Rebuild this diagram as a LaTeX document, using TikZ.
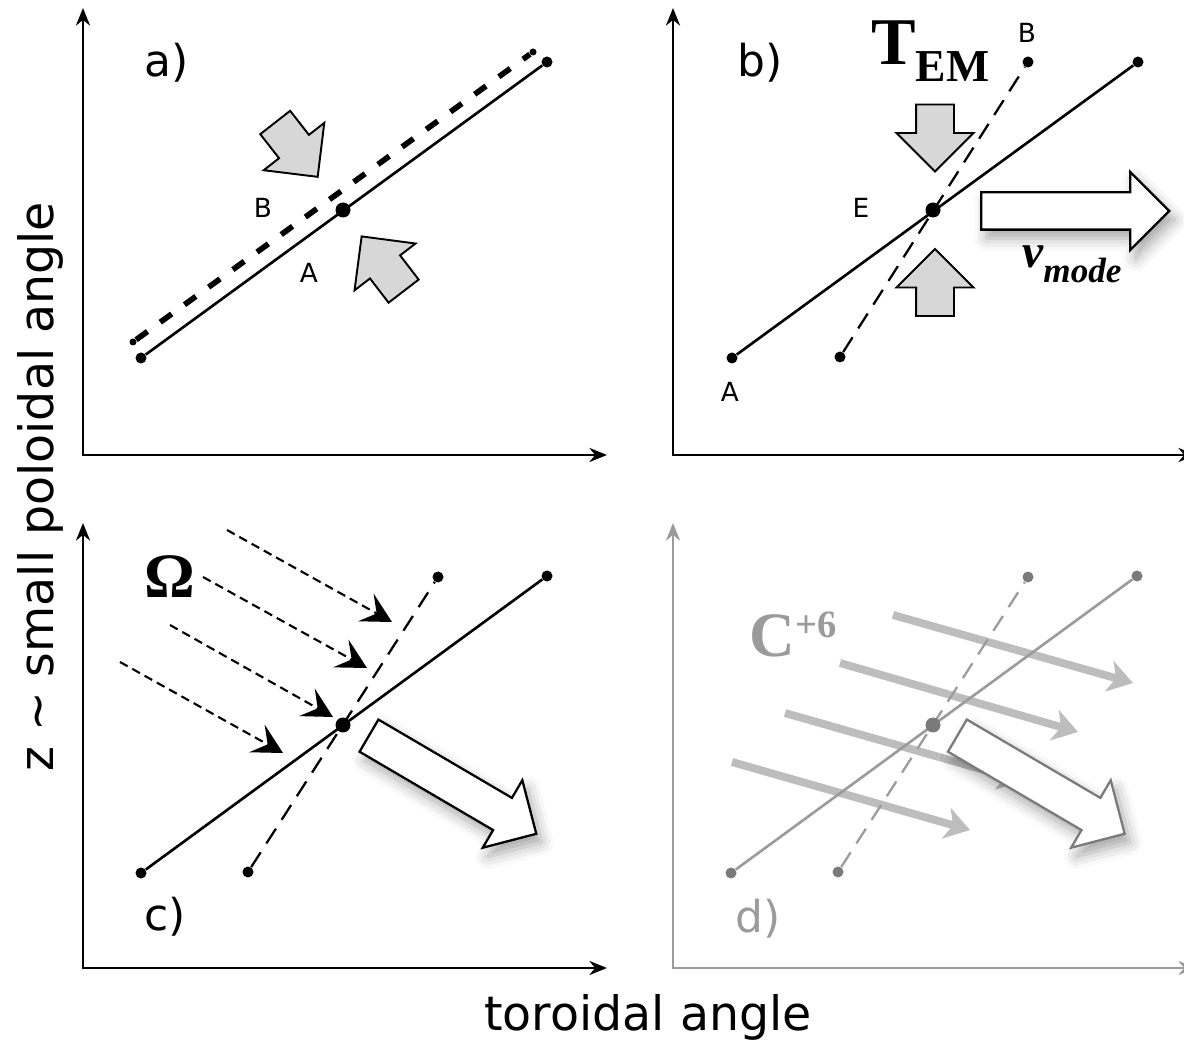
\documentclass[tikz,border=0pt]{standalone}
\usepackage{fontspec}
\setmainfont{Liberation Serif}
\setsansfont{DejaVu Sans}
\usetikzlibrary{arrows.meta,shapes.arrows,shadows.blur}
\definecolor{blockgray}{HTML}{D7D7D7}
\definecolor{fade}{HTML}{9B9B9B}
\definecolor{fadedot}{HTML}{7A7A7A}
\definecolor{flow}{HTML}{BDBDBD}

\begin{document}
\begin{tikzpicture}[x=0.02cm,y=-0.02cm,>=Stealth,
    axis/.style={line width=1.6pt,{Stealth[length=10pt,width=8pt]}-{Stealth[length=10pt,width=8pt]}},
    wire/.style={line width=1.5pt},
    thickdash/.style={line width=3.2pt,dash pattern=on 8pt off 9pt},
    thindash/.style={line width=1.3pt,dash pattern=on 10pt off 6pt},
    dot/.style={circle,fill,inner sep=0pt,minimum size=0.22cm},
    bigdot/.style={circle,fill,inner sep=0pt,minimum size=0.3cm},
    smalldot/.style={circle,fill,inner sep=0pt,minimum size=0.14cm},
    panellabel/.style={font=\sffamily\fontsize{25}{30}\selectfont,inner sep=0pt,anchor=base},
    pointlabel/.style={font=\sffamily\fontsize{15}{18}\selectfont,inner sep=0pt,anchor=base},
    axislabel/.style={font=\sffamily\fontsize{27}{32}\selectfont,inner sep=0pt,anchor=base},
    pushblock/.style={single arrow,draw=black,fill=blockgray,line width=1.1pt,
      inner xsep=0pt,inner ysep=0.36cm,single arrow head extend=0.39cm,minimum height=1.38cm},
    driftblock/.style={single arrow,draw=black,fill=white,line width=1.3pt,
      inner xsep=0pt,inner ysep=0.35cm,single arrow head extend=0.41cm,
      blur shadow={shadow xshift=3pt,shadow yshift=-5pt,shadow blur radius=7pt,shadow opacity=35}},
    omegaflow/.style={line width=1.2pt,dash pattern=on 5pt off 3pt,-{Stealth[length=17pt,width=18pt,inset=7pt]}},
    carbonflow/.style={flow,line width=4.5pt,-{Stealth[length=14pt,width=18pt,inset=4pt]}}]
  \useasboundingbox (0,0) rectangle (1184,1043);

  \node[axislabel,rotate=90] (zlab) at (53,487) {z \textasciitilde{} small poloidal angle};
  \node[axislabel] (tlab) at (648,1030) {toroidal angle};

  % a)
  \coordinate (a-y) at (83,8);
  \coordinate (a-x) at (607,455);
  \draw[axis] (a-y) |- (a-x);
  \node[panellabel] (a-lab) at (167,77) {a)};
  \node[dot] (a-A1) at (141,358) {};
  \node[dot] (a-A2) at (547,62) {};
  \node[smalldot] (a-B1) at (133,342) {};
  \node[smalldot] (a-B2) at (533,52) {};
  \draw[thickdash] (a-B1) -- (a-B2);
  \draw[wire] (a-A1) -- (a-A2);
  \node[bigdot] (a-E) at (343,210) {};
  \node[pointlabel] (a-Blab) at (263,218) {B};
  \node[pointlabel] (a-Alab) at (309,283) {A};
  \node[pushblock,rotate=-52] (a-push1) at (290.6,142.2) {};
  \node[pushblock,rotate=127.5] (a-push2) at (388.4,271.3) {};

  % b)
  \coordinate (b-y) at (673,8);
  \coordinate (b-x) at (1196,455);
  \draw[axis] (b-y) |- (b-x);
  \node[panellabel] (b-lab) at (760,77) {b)};
  \node[dot] (b-A1) at (732,358) {};
  \node[dot] (b-A2) at (1138,62) {};
  \node[dot] (b-B1) at (840,357) {};
  \node[dot] (b-B2) at (1028,62) {};
  \draw[thindash] (b-B1) -- (b-B2);
  \draw[wire] (b-A1) -- (b-A2);
  \node[bigdot] (b-E) at (933,210) {};
  \node[pointlabel] (b-Elab) at (861,218) {E};
  \node[pointlabel] (b-Alab) at (730,402) {A};
  \node[pointlabel] (b-Blab) at (1027,43) {B};
  \node[inner sep=0pt,anchor=base west,font=\bfseries] (b-tem) at (871,65)
    {\fontsize{38}{40}\selectfont T\raisebox{-9.6pt}{\fontsize{26}{28}\selectfont EM}};
  \node[pushblock,rotate=-90,minimum height=1.34cm] (b-push1) at (935,128.5) {};
  \node[pushblock,rotate=90,minimum height=1.34cm] (b-push2) at (935,292) {};
  \node[driftblock,minimum height=3.76cm] (b-drift) at (1066,211) {};
  \node[inner sep=0pt,anchor=base west,font=\bfseries\itshape] (b-vmode) at (1022,268)
    {\fontsize{27}{30}\selectfont v\raisebox{-8pt}{\fontsize{20}{22}\selectfont mode}};

  % c)
  \coordinate (c-y) at (83,523);
  \coordinate (c-x) at (607,968);
  \draw[axis] (c-y) |- (c-x);
  \node[panellabel] (c-lab) at (165,930) {c)};
  \node[dot] (c-A1) at (141,873) {};
  \node[dot] (c-A2) at (547,576) {};
  \node[dot] (c-B1) at (248,872) {};
  \node[dot] (c-B2) at (438,577) {};
  \draw[thindash] (c-B1) -- (c-B2);
  \draw[wire] (c-A1) -- (c-A2);
  \node[bigdot] (c-E) at (343,725) {};
  \foreach \n/\sx/\sy/\ex/\ey in {1/227/530/392/622,2/203/577/367/668,3/170/625/333/717,4/120/662/283/753}{
    \coordinate (c-s\n) at (\sx,\sy);
    \coordinate (c-t\n) at (\ex,\ey);
    \draw[omegaflow] (c-s\n) -- (c-t\n);
  }
  \node[inner sep=0pt,anchor=base,font=\bfseries\fontsize{36}{40}\selectfont] (c-omega) at (170,598) {Ω};
  \node[driftblock,rotate=-30.4,minimum height=3.88cm] (c-drift) at (444.6,780) {};

  % d)
  \coordinate (d-y) at (673,523);
  \coordinate (d-x) at (1196,968);
  \draw[axis,fade] (d-y) |- (d-x);
  \node[panellabel,text=fade] (d-lab) at (758,932) {d)};
  \foreach \n/\sx/\sy/\ex/\ey in {1/893/615/1133/683,2/840/663/1078/732,3/785/713/1023/781,4/732/762/970/830}{
    \coordinate (d-s\n) at (\sx,\sy);
    \coordinate (d-t\n) at (\ex,\ey);
    \draw[carbonflow] (d-s\n) -- (d-t\n);
  }
  \node[dot,fill=fadedot] (d-A1) at (731,873) {};
  \node[dot,fill=fadedot] (d-A2) at (1137,576) {};
  \node[dot,fill=fadedot] (d-B1) at (838,872) {};
  \node[dot,fill=fadedot] (d-B2) at (1028,577) {};
  \draw[thindash,fade] (d-B1) -- (d-B2);
  \draw[wire,fade] (d-A1) -- (d-A2);
  \node[bigdot,fill=fadedot] (d-E) at (933,725) {};
  \node[inner sep=0pt,anchor=base west,font=\bfseries,text=fade] (d-carbon) at (749,657)
    {\fontsize{36}{40}\selectfont C\raisebox{11pt}{\fontsize{22}{24}\selectfont +6}};
  \node[driftblock,draw=fadedot,rotate=-30.4,minimum height=3.88cm] (d-drift) at (1033,780) {};
\end{tikzpicture}
\end{document}
